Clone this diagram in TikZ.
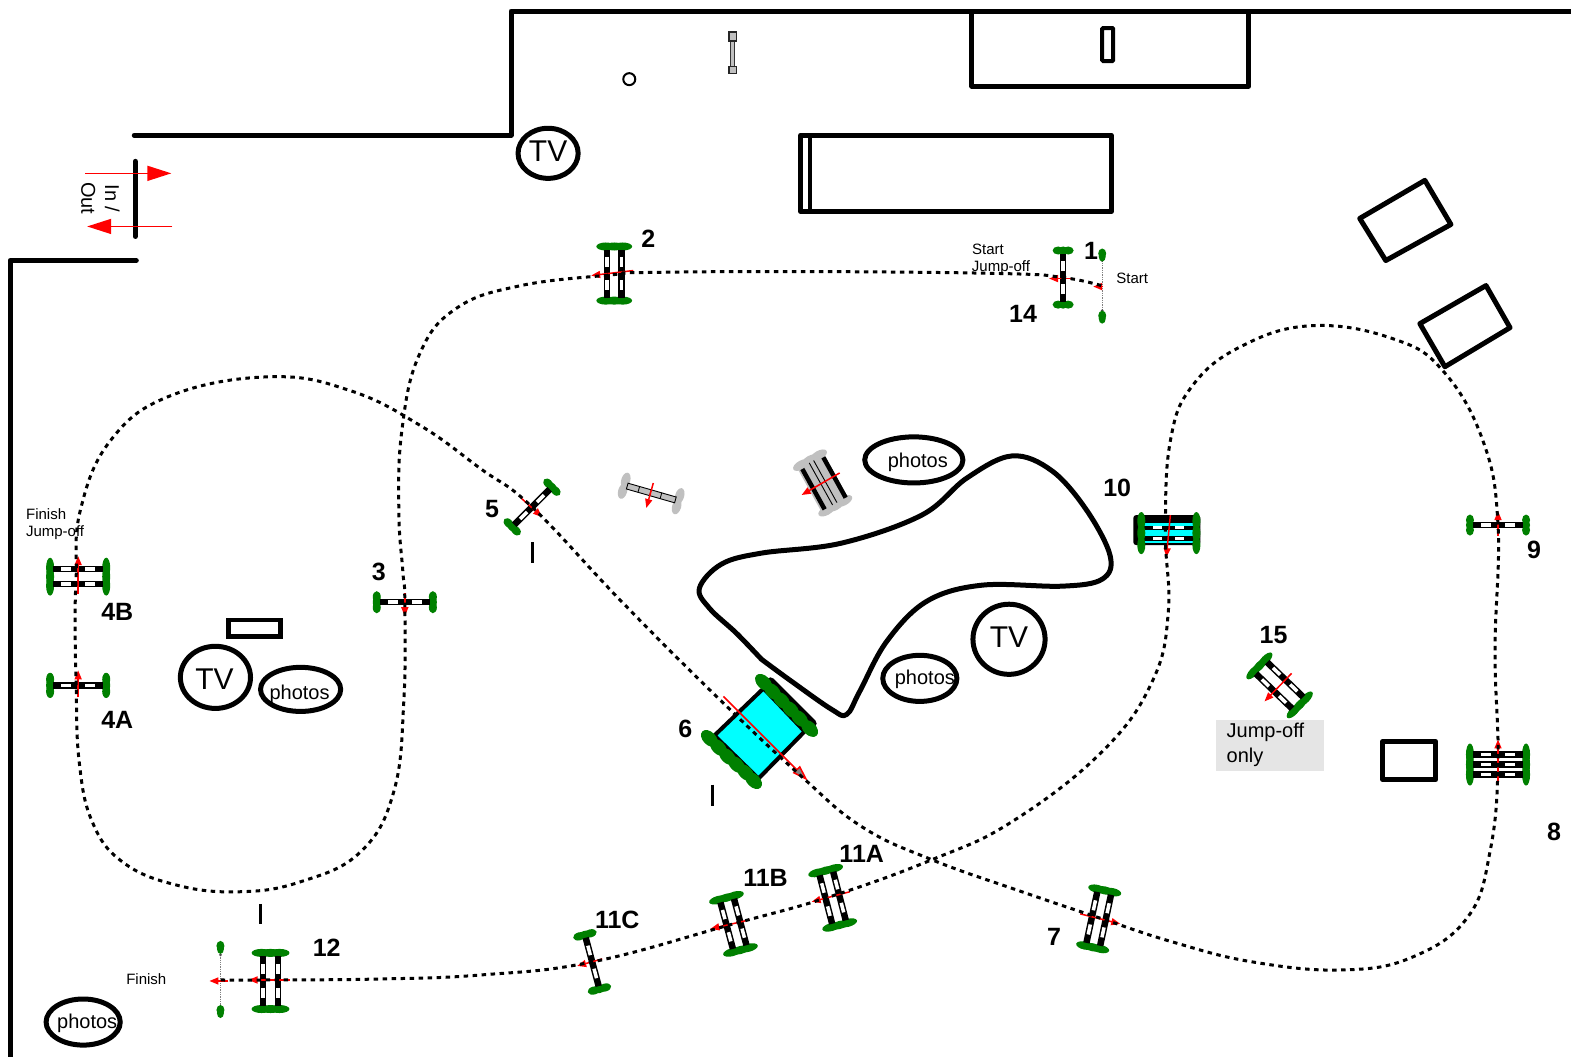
\documentclass[tikz,border=0pt]{standalone}
\usepackage{fontspec}
\setmainfont{Liberation Sans}
\usetikzlibrary{arrows.meta}
\definecolor{gr}{RGB}{0,128,0}
\definecolor{cy}{RGB}{0,255,255}
\definecolor{gy}{RGB}{192,192,192}
\tikzset{
  wall/.style={line width=5pt,line cap=round,line join=round,draw=black},
  tick/.style={line width=3pt,draw=black},
  course/.style={line width=3pt,draw=black,dash pattern=on 4.5pt off 4.5pt},
  rarr/.style={draw=red,line width=1.5pt,-{Triangle[length=9pt,width=7pt,fill=red]}},
  garr/.style={draw=red,line width=1.5pt,-{Triangle[length=16pt,width=10pt,fill=gray]}},
  bigarr/.style={draw=red,line width=1.5pt,-{Triangle[length=24pt,width=15pt,fill=red]}},
  num/.style={font=\fontsize{25}{25}\selectfont\bfseries,inner sep=0pt},
  small/.style={font=\fontsize{15}{15}\selectfont,inner sep=0pt},
  mid/.style={font=\fontsize{20}{20}\selectfont,inner sep=0pt},
  tvtext/.style={font=\fontsize{30}{30}\selectfont,inner sep=0pt},
  oval/.style={draw=black,line width=5pt}
}
% center x, y, rotation, half length, rail offsets, cap half height, cap half thickness
\newcommand{\fence}[7]{%
 \begin{scope}[shift={(#1,#2)},rotate=#3]
  \foreach \s in {-1,1}{\foreach \k in {-1,0,1}{
    \fill[gr] ({\s*#4},{\k*(#6)*0.5}) ellipse [x radius=#7,y radius={(#6)*0.55}];}}
  \foreach \o in {#5}{
    \draw[line width=6.5pt] ({-#4+3},\o) -- ({#4-3},\o);
    \draw[white,line width=3.5pt] ({0.25*#4},\o) -- ({0.6*#4},\o);
    \draw[white,line width=3.5pt] ({-0.25*#4},\o) -- ({-0.6*#4},\o);
  }
 \end{scope}}
\newcommand{\blob}[2]{\fill[gr] (#1,#2) ellipse [x radius=4,y radius=5];
  \fill[gr] (#1,#2+3) ellipse [x radius=3.5,y radius=5];}
\begin{document}
\begin{tikzpicture}[x=1.002pt,y=-1.002pt]
\useasboundingbox (0,0) rectangle (1567.86,1053.9);
\fill[white] (0,0) rectangle (1567.86,1053.9);
% walls
\draw[wall] (134,135) -- (510,135) -- (510,11) -- (1575,11);
\draw[wall] (10,1060) -- (10,260) -- (136,260);
\draw[wall] (135,161) -- (135,236);
\draw[bigarr] (85,173) -- (171,173);
\draw[bigarr] (172,226) -- (87,226);
\node[mid,rotate=-90] (inlab) at (112,198) {In /};
\node[mid,rotate=-90] (outlab) at (88,198) {Out};
% furniture
\draw[wall] (970,11) rectangle (1246,86);
\draw[line width=4pt,rounded corners=1pt] (1100,28) rectangle (1111,61);
\draw[line width=2pt] (628,79) circle (6);
\draw[line width=1pt,draw=black!80,fill=gy] (729.5,40) rectangle (733,68);
\draw[line width=1.2pt,draw=black!85,fill=gy] (727.5,32) rectangle (735,41);
\draw[line width=1.2pt,draw=black!85,fill=gy] (727.5,66) rectangle (735,73);
\draw[wall] (799,135) rectangle (1109,211);
\draw[line width=4pt] (808,135) -- (808,211);
\draw[wall] (1357,218) -- (1422,180) -- (1448,224) -- (1383,260) -- cycle;
\draw[wall] (1417,323) -- (1483,285) -- (1507,327) -- (1442,366) -- cycle;
\draw[wall] (1380,740) rectangle (1433,778);
\draw[line width=4.5pt] (228,619) rectangle (280,635);
% TV and photo ovals
\draw[oval] (547,153) ellipse [x radius=30,y radius=25];
\draw[oval] (215,676) ellipse [x radius=35,y radius=31];
\draw[oval] (1007,638) ellipse [x radius=36,y radius=35];
\draw[oval] (912,459) ellipse [x radius=49,y radius=23];
\draw[oval] (300,688) ellipse [x radius=40,y radius=22];
\draw[oval] (918,677) ellipse [x radius=37,y radius=23];
\draw[oval] (83,1020) ellipse [x radius=37,y radius=23];
\node[tvtext] (tva) at (547,151) {TV};
\node[tvtext] (tvb) at (214,678) {TV};
\node[tvtext] (tvc) at (1007,636) {TV};
\node[mid] (pha) at (916,461) {photos};
\node[mid] (phb) at (299,693) {photos};
\node[mid] (phc) at (923,678) {photos};
\node[mid] (phd) at (87,1021) {photos};
% infield
\draw[wall] plot[smooth,tension=0.6] coordinates {(760,658) (735,632) (708,607) (698,587) (720,563) (760,552) (840,542) (920,514) (965,477) (1010,455) (1050,470) (1085,510) (1108,555) (1100,578) (1060,585) (980,584) (925,600) (885,640) (858,690) (845,713) (830,708) (790,680) (760,658)};
% ticks
\draw[tick] (531,541) -- (531,562);
\draw[tick] (711,783) -- (711,804);
\draw[tick] (260,902) -- (260,922);
% start and finish lines
\draw[gray,line width=1.3pt,densely dotted] (1100,260) -- (1100,310);
\fill[black!70] (1100,260) circle (1.5) (1100,310) circle (1.5);
\blob{1100}{253}\blob{1100}{315}
\draw[gray,line width=1.3pt,densely dotted] (220,953) -- (220,1005);
\fill[black!70] (220,953) circle (1.5) (220,1005) circle (1.5);
\blob{220}{944}\blob{220}{1008}
% grey fences
\begin{scope}[shift={(650,492)},rotate=-16]
 \fill[gy] (-28,-5) ellipse [x radius=4.5,y radius=8];\fill[gy] (-28,6) ellipse [x radius=4.5,y radius=8];
 \fill[gy] (28,-5) ellipse [x radius=4.5,y radius=8];\fill[gy] (28,6) ellipse [x radius=4.5,y radius=8];
 \draw[line width=0.9pt,fill=gy] (-25,-3) rectangle (25,3);
 \foreach \x in {-13,-1,10} \draw[line width=0.8pt] (\x,-3) -- (\x,3);
\end{scope}
\begin{scope}[shift={(821,482)},rotate=-61]
 \fill[gy] (-24,-15) rectangle (24,15);
 \foreach \s in {-1,1}{\foreach \k in {-1,0,1}{
   \fill[gy] ({\s*26},{\k*10}) ellipse [x radius=4.5,y radius=9];}}
 \draw[line width=4.5pt] (-22,-13) -- (24,-13);
 \draw[line width=4.5pt] (-22,11) -- (24,11);
 \draw[line width=0.9pt] (-24,-3) -- (24,-3);
 \draw[line width=0.9pt] (-24,2) -- (24,2);
\end{scope}
% water jump 6
\draw[line width=8pt,line cap=round] (769,680) -- (811,722);
\filldraw[fill=cy,draw=black,line width=4pt,line join=round] (762,687) -- (803,730) -- (757,777) -- (713,734) -- cycle;
\foreach \x/\y in {762/681,771/690,780/699,789/708,798/717,808/727,708/737,717/746,726/755,735/763,744/771,752/779}{
 \fill[gr,rotate around={-45:(\x,\y)}] (\x,\y) ellipse [x radius=10,y radius=6.5];
}
% water jump 10
\fill[black,rounded corners=3pt] (1131,514) rectangle (1198,544);
\fill[cy] (1141,522) rectangle (1192,524.5);
\fill[cy] (1141,529) rectangle (1192,535);
\fill[cy] (1141,540) rectangle (1192,542);
\foreach \y in {526.5,537.5}{
 \draw[white,line width=3pt] (1151,\y) -- (1160,\y);
 \draw[white,line width=3pt] (1173,\y) -- (1182,\y);
}
\foreach \x in {1139,1194}{\foreach \y in {520,532,544}{
 \fill[gr] (\x,\y) ellipse [x radius=4,y radius=9];}}
% fences
\fence{1061}{277}{90}{27}{0}{10}{4}
\fence{613}{273}{90}{27}{-7,7}{17}{4}
\fence{404}{601}{0}{28}{0}{10.5}{4}
\fence{78}{575.5}{0}{28}{-7.5,7.5}{18}{4}
\fence{78}{684}{0}{28}{0}{12}{4}
\fence{531}{506}{45}{28}{0}{10.5}{4}
\fence{1096.5}{917}{78}{29}{-7,7}{16}{4}
\fence{1495}{763}{0}{28}{-10,0,10}{20}{4}
\fence{1495}{524}{0}{28}{0}{10}{4}
\fence{831}{896}{104.5}{28}{-7,7}{17}{4}
\fence{732}{922}{105}{27}{-7,7}{17}{4}
\fence{591}{960}{105}{28}{0}{11.5}{4}
\fence{270}{979}{90}{28}{-7.5,7.5}{18}{4}
\fence{1277}{684}{-44}{28}{-8,8}{17}{4}
% red arrows
\draw[rarr] (1101,286) -- (1091,286);
\draw[rarr] (1073,278) -- (1047,278);
\draw[rarr] (632,270) -- (590,275);
\draw[rarr] (404,592) -- (404,615);
\draw[rarr] (78,593) -- (78,555);
\draw[rarr] (78,696) -- (78,669);
\draw[rarr] (520,497) -- (541,516);
\draw[rarr] (652,482) -- (645,507);
\draw[rarr] (838,472) -- (800,494);
\draw[garr] (722,695) -- (806,779);
\draw[rarr] (1168,514) -- (1164,556);
\draw[rarr] (1495,782) -- (1495,738);
\draw[rarr] (1495,535) -- (1495,510);
\draw[rarr] (1078,912) -- (1118,922);
\draw[rarr] (848,890) -- (810,900);
\draw[rarr] (748,918) -- (709,927);
\draw[rarr] (601,957) -- (576,964);
\draw[rarr] (289,978) -- (248,978);
\draw[rarr] (228,979) -- (209,979);
\draw[rarr] (1289,672) -- (1262,700);
% course
\draw[course] plot[smooth,tension=0.7] coordinates {(1099,285) (1061,277) (1000,273) (800,271) (640,272) (613,274) (520,285) (455,308) (418,355) (401,430) (398,510) (402,570) (404,600) (403,700) (393,790) (360,850) (300,880) (238,890) (175,883) (122,860) (92,820) (79,760) (76,684) (75,620) (76,576) (80,510) (110,440) (170,395) (270,376) (350,390) (420,425) (480,468) (531,506) (620,600) (715,695) (800,775) (860,825) (930,858) (1020,890) (1097,916) (1170,940) (1250,960) (1340,968) (1410,955) (1465,915) (1487,850) (1495,763) (1492,650) (1495,524) (1480,440) (1440,370) (1390,338) (1310,325) (1240,345) (1190,385) (1168,440) (1163,530) (1166,610) (1150,680) (1100,750) (1010,820) (930,858) (828,895) (732,922) (591,960) (480,973) (380,977) (270,978) (220,978)};
% grey box
\fill[black!10] (1214,719) rectangle (1321,769);
\node[mid,anchor=west] (jo1) at (1224,731) {Jump-off};
\node[mid,anchor=west] (jo2) at (1224,756) {only};
% labels
\node[num] (n1) at (1089,250) {1};
\node[num] (n2) at (647,238) {2};
\node[num] (n3) at (378,571) {3};
\node[num] (n4b) at (117,611) {4B};
\node[num] (n4a) at (117,718) {4A};
\node[num] (n5) at (491,508) {5};
\node[num] (n6) at (684,727) {6};
\node[num] (n7) at (1052,935) {7};
\node[num] (n8) at (1551,830) {8};
\node[num] (n9) at (1531,549) {9};
\node[num] (n10) at (1115,487) {10};
\node[num] (n11a) at (860,852) {11A};
\node[num] (n11b) at (764,876) {11B};
\node[num] (n11c) at (616,918) {11C};
\node[num] (n12) at (326,946) {12};
\node[num] (n14) at (1021,313) {14};
\node[num] (n15) at (1271,634) {15};
\node[small] (s1) at (986,249) {Start};
\node[small] (s2) at (999,267) {Jump-off};
\node[small] (s3) at (1130,278) {Start};
\node[small] (f1) at (46,513) {Finish};
\node[small] (f2) at (55,532) {Jump-off};
\node[small] (f3) at (146,977) {Finish};
\end{tikzpicture}
\end{document}
